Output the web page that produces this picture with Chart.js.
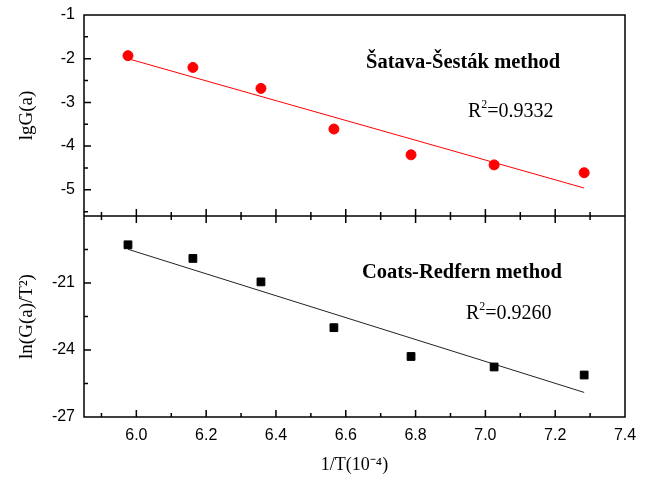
<!DOCTYPE html>
<html>
<head>
<meta charset="utf-8">
<script src="https://cdn.jsdelivr.net/npm/chart.js@4.4.1/dist/chart.umd.min.js"></script>
<style>
  body { margin: 0; background: #fff; }
</style>
</head>
<body>
<canvas id="chart" width="652" height="480"></canvas>
<script>
// 1/T values (10^-4)
const invT = [5.976, 6.162, 6.357, 6.566, 6.787, 7.025, 7.283];
// Šatava-Šesták: lgG(a)
const lgG = [-1.93, -2.20, -2.68, -3.61, -4.20, -4.43, -4.61];
// Coats-Redfern: ln(G(a)/T^2)
const lnG = [-19.29, -19.90, -20.95, -23.00, -24.29, -24.76, -25.12];
// fitted lines (end points)
const fitX = [5.976, 7.283];
const fitLg = [-2.0, -4.96];
const fitLn = [-19.49, -25.90];

const serif = "'Liberation Serif', 'Times New Roman', serif";
const sans = "'Liberation Sans', Arial, sans-serif";

function pts(xs, ys) {
  return xs.map((x, i) => ({ x: x, y: ys[i] }));
}

// frame + inward ticks, like Origin
const frameTicks = {
  id: 'frameTicks',
  afterDraw(chart) {
    const ctx = chart.ctx;
    const a = chart.chartArea;
    const sx = chart.scales.x, s1 = chart.scales.y1, s2 = chart.scales.y2;
    const mid = s1.bottom;
    ctx.save();
    ctx.strokeStyle = '#000';
    ctx.lineWidth = 1.5;
    ctx.strokeRect(a.left, a.top, a.right - a.left, a.bottom - a.top);
    ctx.beginPath();
    ctx.moveTo(a.left, mid);
    ctx.lineTo(a.right, mid);
    ctx.stroke();

    ctx.beginPath();
    // x ticks: bottom axis and divider
    for (let i = 0; i <= 15; i++) {
      const v = 5.9 + i * 0.1;
      const px = sx.getPixelForValue(v);
      if (px <= a.left + 1 || px >= a.right - 1) continue;
      const len = (i % 2 === 1) ? 7 : 4;
      ctx.moveTo(px, a.bottom); ctx.lineTo(px, a.bottom - len);
      ctx.moveTo(px, mid); ctx.lineTo(px, mid - len);
      ctx.moveTo(px, mid); ctx.lineTo(px, mid + len);
    }
    // y1 ticks
    for (let i = 0; i <= 9; i++) {
      const v = -1 - i * 0.5;
      const py = s1.getPixelForValue(v);
      if (py >= mid - 1 || py <= a.top + 1) continue;
      const len = (i % 2 === 0) ? 7 : 4;
      ctx.moveTo(a.left, py); ctx.lineTo(a.left + len, py);
    }
    // y2 ticks
    for (let i = 0; i <= 6; i++) {
      const v = -27 + i * 1.5;
      const py = s2.getPixelForValue(v);
      if (py >= a.bottom - 1 || py <= mid + 1) continue;
      const len = (i % 2 === 0) ? 7 : 4;
      ctx.moveTo(a.left, py); ctx.lineTo(a.left + len, py);
    }
    ctx.stroke();
    ctx.restore();
  }
};

function drawParts(ctx, parts, x, y, size) {
  let cx = x;
  parts.forEach(p => {
    if (p.sup) {
      ctx.font = Math.round(size * 0.6) + 'px ' + serif;
      ctx.fillText(p.t, cx, y - size * 0.38);
    } else {
      ctx.font = size + 'px ' + serif;
      ctx.fillText(p.t, cx, y);
    }
    cx += ctx.measureText(p.t).width;
  });
}

// method names and R^2 values
const notes = {
  id: 'notes',
  afterDraw(chart) {
    const ctx = chart.ctx;
    const a = chart.chartArea;
    const mid = chart.scales.y1.bottom;
    ctx.save();
    ctx.fillStyle = '#000';
    ctx.textBaseline = 'middle';
    ctx.textAlign = 'left';
    ctx.font = 'bold 20.5px ' + serif;
    ctx.fillText('Šatava-Šesták method', a.left + 282, a.top + 48);
    ctx.fillText('Coats-Redfern method', a.left + 278, mid + 57);
    drawParts(ctx, [{ t: 'R' }, { t: '2', sup: true }, { t: '=0.9332' }], a.left + 384, a.top + 97, 20);
    drawParts(ctx, [{ t: 'R' }, { t: '2', sup: true }, { t: '=0.9260' }], a.left + 382, mid + 98, 20);
    ctx.restore();
  }
};

const ctx = document.getElementById('chart').getContext('2d');
new Chart(ctx, {
  type: 'scatter',
  data: {
    datasets: [
      {
        label: 'lgG(a)',
        data: pts(invT, lgG),
        yAxisID: 'y1',
        backgroundColor: '#ff0000',
        borderColor: '#ff0000',
        pointStyle: 'circle',
        pointRadius: 5,
        pointHoverRadius: 5
      },
      {
        label: 'lgG fit',
        type: 'line',
        data: pts(fitX, fitLg),
        yAxisID: 'y1',
        borderColor: '#ff0000',
        borderWidth: 1,
        pointRadius: 0,
        fill: false
      },
      {
        label: 'ln(G(a)/T2)',
        data: pts(invT, lnG),
        yAxisID: 'y2',
        backgroundColor: '#000',
        borderColor: '#000',
        pointStyle: 'rect',
        pointRadius: 5.5,
        pointHoverRadius: 5.5
      },
      {
        label: 'ln fit',
        type: 'line',
        data: pts(fitX, fitLn),
        yAxisID: 'y2',
        borderColor: '#222',
        borderWidth: 1,
        pointRadius: 0,
        fill: false
      }
    ]
  },
  options: {
    responsive: false,
    animation: false,
    layout: { padding: { top: 15, right: 27, left: 0, bottom: 0 } },
    plugins: {
      legend: { display: false },
      tooltip: { enabled: false }
    },
    scales: {
      x: {
        type: 'linear',
        position: 'bottom',
        min: 5.85,
        max: 7.4,
        grid: { display: false, drawTicks: false },
        border: { display: false },
        ticks: {
          stepSize: 0.2,
          includeBounds: false,
          color: '#000',
          padding: 9,
          maxRotation: 0,
          font: { family: sans, size: 16 },
          callback: v => v.toFixed(1)
        },
        title: {
          display: true,
          text: '1/T(10⁻⁴)',
          color: '#000',
          font: { family: serif, size: 18 },
          padding: { top: 0, bottom: 4 }
        },
        afterFit: s => { s.height = 63; }
      },
      // bottom panel first: Chart.js stacks the first axis at the bottom
      y2: {
        type: 'linear',
        position: 'left',
        stack: 'panels',
        stackWeight: 1,
        min: -27,
        max: -18,
        grid: { display: false, drawTicks: false },
        border: { display: false },
        ticks: {
          stepSize: 3,
          includeBounds: false,
          color: '#000',
          padding: 9,
          font: { family: sans, size: 16 },
          callback: v => (v === -18 ? '' : v)
        },
        title: {
          display: true,
          text: 'ln(G(a)/T²)',
          color: '#000',
          font: { family: serif, size: 19 },
          padding: { top: 16, bottom: 0 }
        },
        afterFit: s => { s.width = 84; s.paddingTop = 0; s.paddingBottom = 0; }
      },
      y1: {
        type: 'linear',
        position: 'left',
        stack: 'panels',
        stackWeight: 1,
        min: -5.6,
        max: -1,
        grid: { display: false, drawTicks: false },
        border: { display: false },
        ticks: {
          stepSize: 1,
          includeBounds: false,
          color: '#000',
          padding: 9,
          font: { family: sans, size: 16 }
        },
        title: {
          display: true,
          text: 'lgG(a)',
          color: '#000',
          font: { family: serif, size: 19 },
          padding: { top: 16, bottom: 0 }
        },
        afterFit: s => { s.width = 84; s.paddingTop = 0; s.paddingBottom = 0; }
      }
    }
  },
  plugins: [frameTicks, notes]
});
</script>
</body>
</html>
